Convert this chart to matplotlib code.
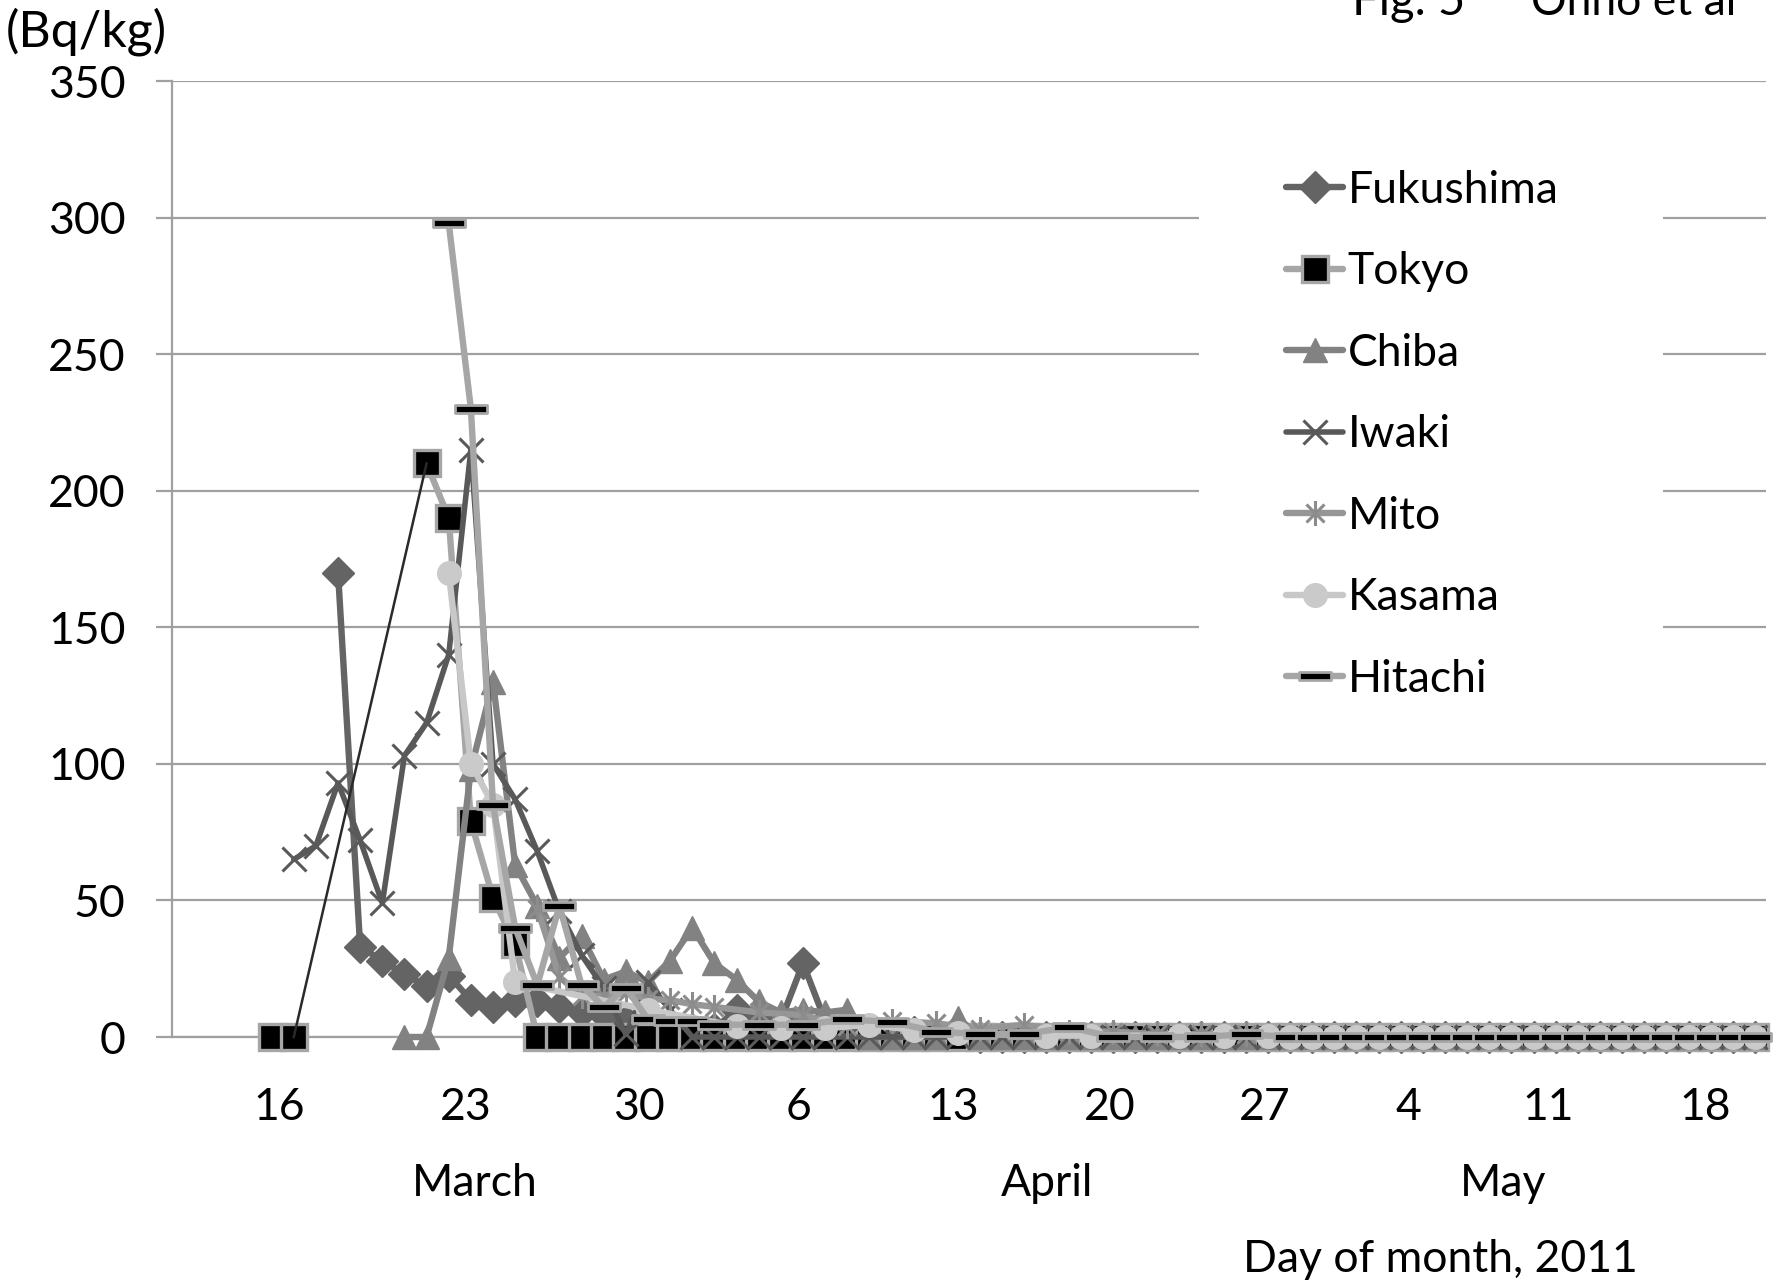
import numpy as np
import matplotlib
matplotlib.use("Agg")
import matplotlib.pyplot as plt
from matplotlib.path import Path
from matplotlib.patches import Rectangle

plt.rcParams['font.family'] = ['Lato', 'DejaVu Sans']

# x = day number counted from 1 March 2011 (1 April = 32, 1 May = 62)
fukushima_days = list(range(17, 82))
fukushima_vals = [170, 33, 28, 23, 18.5, 22.5, 13.5, 11, 13, 13,
                  11, 9, 8, 6, 4, 3, 3, 3, 10, 6,
                  6, 27, 6, 4, 3, 2, 2, 1, 1, 0,
                  0, 0, 0, 0, 0, 0, 0, 0, 0, 0,
                  0, 0, 0, 0, 0, 0, 0, 0, 0, 0,
                  0, 0, 0, 0, 0, 0, 0, 0, 0, 0,
                  0, 0, 0, 0, 0]

tokyo_days = [14, 15] + list(range(21, 82))
tokyo_vals = [0, 0, 210, 190, 79, 51, 34, 0, 0, 0,
              0, 0, 0, 0, 0, 0, 0, 0, 0, 0,
              0, 0, 0, 0, 0, 0, 0, 0, 0, 0,
              0, 0, 0, 0, 0, 0, 0, 0, 0, 0,
              0, 0, 0, 0, 0, 0, 0, 0, 0, 0,
              0, 0, 0, 0, 0, 0, 0, 0, 0, 0,
              0, 0, 0]

chiba_days = list(range(20, 82))
chiba_vals = [0, 0, 29, 98, 130, 63, 48, 29, 37, 21,
              24, 20, 28, 40, 27, 21, 13, 9, 10, 9,
              10, 0, 0, 0, 0, 7, 0, 0, 0, 0,
              0, 0, 0, 0, 0, 0, 0, 0, 0, 0,
              0, 0, 0, 0, 0, 0, 0, 0, 0, 0,
              0, 0, 0, 0, 0, 0, 0, 0, 0, 0,
              0, 0]

iwaki_days = list(range(15, 82))
iwaki_vals = [65, 70, 93, 72, 49, 103, 115, 140, 215, 100,
              87, 68, 46, 30, 18, 1, 20, 10, 0, 0,
              0, 0, 0, 0, 0, 0, 0, 0, 0, 0,
              0, 0, 0, 0, 0, 0, 0, 0, 0, 0,
              0, 0, 0, 0, 0, 0, 0, 0, 0, 0,
              0, 0, 0, 0, 0, 0, 0, 0, 0, 0,
              0, 0, 0, 0, 0, 0, 0]

mito_days = [26, 27, 28, 29, 30, 31, 32, 33, 34, 36, 38, 40, 42, 44, 46, 48, 50, 52, 54, 56, 58] \
    + list(range(60, 82))
mito_vals = [47, 22, 15, 15, 16, 14, 13.5, 12, 11, 9,
             8, 4, 6, 5, 3, 4.5, 2, 2, 1, 1,
             1, 0, 0, 0, 0, 0, 0, 0, 0, 0,
             0, 0, 0, 0, 0, 0, 0, 0, 0, 0,
             0, 0, 0]

kasama_days = [22, 23, 24, 25, 31, 35, 37, 39, 41, 43, 45, 49, 51, 55, 57, 59] + list(range(60, 82))
kasama_vals = [170, 100, 85, 20, 10, 4, 3.3, 3.3, 4.4, 2.6,
               1.3, 0.5, 0.5, 0.5, 0.5, 0.5, 0, 0, 0, 0,
               0, 0, 0, 0, 0, 0, 0, 0, 0, 0,
               0, 0, 0, 0, 0, 0, 0, 0]

hitachi_days = list(range(22, 35)) + [36, 38, 40, 42, 44, 46, 48, 50, 52, 54, 56, 58] \
    + list(range(60, 82))
hitachi_vals = [298, 230, 85, 40, 19, 48, 19, 11, 18, 6.5,
                6, 6, 4.5, 4.5, 4.5, 6.5, 5.5, 2, 1, 1,
                3.6, 0, 0, 0, 1, 0, 0, 0, 0, 0,
                0, 0, 0, 0, 0, 0, 0, 0, 0, 0,
                0, 0, 0, 0, 0, 0, 0]

xtick_labels = ["16", "23", "30", "6", "13", "20", "27", "4", "11", "18"]
xtick_pos = [14.34, 22.79, 30.61, 37.79, 44.79, 51.84, 58.85, 65.35, 71.64, 78.74]
yticks = [0, 50, 100, 150, 200, 250, 300, 350]
month_labels = ["March", "April", "May"]

FS = 32
W, H = 1773, 1286
grid_c = '#a0a0a0'
LW = 4.6

fig = plt.figure(figsize=(W / 100, H / 100), dpi=100)
ax = fig.add_axes([172 / W, 1 - 1037 / H, (1766 - 172) / W, (1037 - 81) / H])
ax.set_xlim(9.5, 81.5)
ax.set_ylim(0, 350)
ax.set_yticks(yticks)
ax.set_xticks(xtick_pos, xtick_labels)
ax.yaxis.grid(True, color=grid_c, lw=1.6)
ax.set_axisbelow(True)
for s in ['top', 'right']:
    ax.spines[s].set_visible(False)
for s in ['left', 'bottom']:
    ax.spines[s].set_color(grid_c)
    ax.spines[s].set_linewidth(1.6)
ax.tick_params(axis='y', length=11.5, width=1.6, color=grid_c, pad=22, labelsize=FS)
ax.tick_params(axis='x', length=0, pad=36, labelsize=FS)

# white background behind legend (interrupts gridlines)
ax.add_patch(Rectangle((0.6443, 0.335), 0.291, 0.595, transform=ax.transAxes,
                       fc='white', ec='none', zorder=1))

star_path = Path([(0, -1), (0, 1), (-0.72, -0.72), (0.72, 0.72), (-0.72, 0.72), (0.72, -0.72)],
                 [Path.MOVETO, Path.LINETO] * 3)
bar_path = Path([(-1, -0.26), (1, -0.26), (1, 0.26), (-1, 0.26), (-1, -0.26)],
                [Path.MOVETO, Path.LINETO, Path.LINETO, Path.LINETO, Path.CLOSEPOLY])

handles = []


def series(days, vals, z, **kw):
    ln, = ax.plot(days, vals, zorder=z, clip_on=False, solid_joinstyle='round',
                  solid_capstyle='round', **kw)
    return ln


handles.append(series(fukushima_days, fukushima_vals, 3, color='#646464', lw=LW,
                      marker='D', ms=16, mfc='#646464', mec='#646464', mew=1,
                      label='Fukushima'))

# Tokyo: gap between 15 and 21 March, bridged by a thin dark line
tx = np.array(tokyo_days, dtype=float)
ty = np.array(tokyo_vals, dtype=float)
gap = int(np.where(np.diff(tx) > 1)[0][0]) + 1
tx_plot = np.insert(tx, gap, np.nan)
ty_plot = np.insert(ty, gap, np.nan)
handles.append(series(tx_plot, ty_plot, 4, color='#a6a6a6', lw=LW,
                      marker='s', ms=18.5, mfc='black', mec='#a6a6a6', mew=2.4,
                      label='Tokyo'))
ax.plot([tx[gap - 1], tx[gap]], [ty[gap - 1], ty[gap]], color='#2a2a2a', lw=1.8,
        zorder=12, clip_on=False)

handles.append(series(chiba_days, chiba_vals, 5, color='#828282', lw=LW,
                      marker='^', ms=17, mfc='#828282', mec='#828282', mew=1,
                      label='Chiba'))
handles.append(series(iwaki_days, iwaki_vals, 6, color='#595959', lw=4.0,
                      marker='x', ms=17, mec='#595959', mew=2.2,
                      label='Iwaki'))
handles.append(series(mito_days, mito_vals, 7, color='#969696', lw=LW,
                      marker=star_path, ms=18, mfc='none', mec='#8c8c8c', mew=2.2,
                      label='Mito'))
handles.append(series(kasama_days, kasama_vals, 8, color='#c8c8c8', lw=LW,
                      marker='o', ms=17, mfc='#cacaca', mec='#cacaca', mew=1,
                      label='Kasama'))
handles.append(series(hitachi_days, hitachi_vals, 9, color='#a6a6a6', lw=LW,
                      marker=bar_path, ms=23, mfc='black', mec='#a6a6a6', mew=2.0,
                      label='Hitachi'))

leg = ax.legend(handles=handles, loc='upper left', bbox_to_anchor=(0.699, 0.907),
                frameon=False, fontsize=FS, numpoints=1, handlelength=1.28,
                handletextpad=0.1, labelspacing=0.91, borderpad=0, borderaxespad=0)
leg.set_zorder(20)

fig.text(1440 / W, 1 - 1259 / H, "Day of month, 2011", ha='center', va='center', fontsize=FS)
for lab, xc in zip(month_labels, [475, 1047, 1503]):
    fig.text(xc / W, 1 - 1184 / H, lab, ha='center', va='center', fontsize=FS)
fig.text(6 / W, 1 - 47 / H, "(Bq/kg)", ha='left', va='baseline', fontsize=36)
fig.text(1352 / W, 1 - 15 / H, "Fig. 5", ha='left', va='baseline', fontsize=34)
fig.text(1736 / W, 1 - 15 / H, "Ohno et al", ha='right', va='baseline', fontsize=32)

fig.savefig("out.png", dpi=100)
